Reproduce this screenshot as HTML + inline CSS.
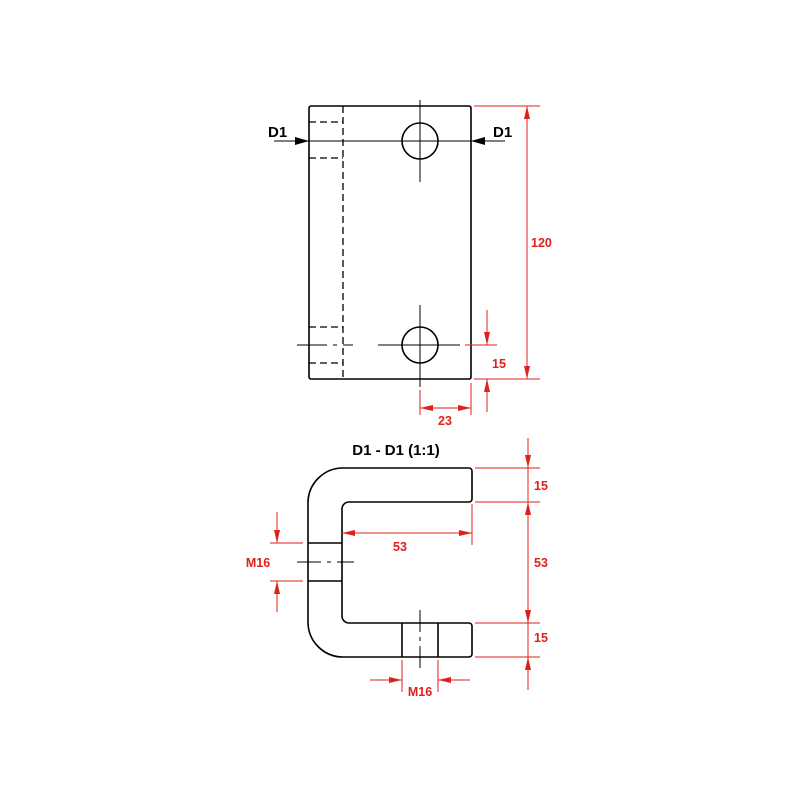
<!DOCTYPE html>
<html><head><style>body{margin:0;background:#fff}svg{display:block}</style></head><body>
<svg width="800" height="800" viewBox="0 0 800 800" xmlns="http://www.w3.org/2000/svg">
<defs>
<marker id="a" viewBox="0 0 13 6" refX="13" refY="3" markerWidth="13" markerHeight="6" markerUnits="userSpaceOnUse" orient="auto"><path d="M0,0L13,3L0,6z" fill="#e0201b"/></marker>
<marker id="b" viewBox="0 0 14 8" refX="14" refY="4" markerWidth="14" markerHeight="8" markerUnits="userSpaceOnUse" orient="auto"><path d="M0,0L14,4L0,8z" fill="#000"/></marker>
</defs>
<g fill="none" stroke="#000" stroke-width="1.6">
<rect x="309" y="106" width="162" height="273" rx="2"/>
<circle cx="420" cy="141" r="18"/>
<circle cx="420" cy="345" r="18"/>
</g>
<g fill="none" stroke="#000" stroke-width="1.3" stroke-dasharray="7,4">
<line x1="343" y1="106" x2="343" y2="379"/>
<line x1="309" y1="122" x2="343" y2="122"/><line x1="309" y1="158" x2="343" y2="158"/>
<line x1="309" y1="327" x2="343" y2="327"/><line x1="309" y1="363" x2="343" y2="363"/>
</g>
<g stroke="#000" stroke-width="1" fill="none">
<line x1="420" y1="100" x2="420" y2="182"/>
<line x1="420" y1="305" x2="420" y2="387"/>
<line x1="297" y1="345" x2="353" y2="345" stroke-dasharray="30,6,4,6,20"/>
<line x1="378" y1="345" x2="460" y2="345"/>
<line x1="309" y1="141" x2="471" y2="141"/>
<line x1="274" y1="141" x2="309" y2="141" marker-end="url(#b)"/>
<line x1="505" y1="141" x2="471" y2="141" marker-end="url(#b)"/>
</g>
<g font-family="Liberation Sans, sans-serif" font-weight="bold" font-size="15" fill="#000">
<text x="268" y="137">D1</text><text x="493" y="137">D1</text>
<text x="396" y="455" text-anchor="middle">D1 - D1 (1:1)</text>
</g>
<g fill="none" stroke="#000" stroke-width="1.6">
<path d="M469,468 H343 A35,35 0 0 0 308,503 V622 A35,35 0 0 0 343,657 H469 A3,3 0 0 0 472,654 V626 A3,3 0 0 0 469,623 H349 A7,7 0 0 1 342,616 V509 A7,7 0 0 1 349,502 H469 A3,3 0 0 0 472,499 V471 A3,3 0 0 0 469,468 Z"/>
<line x1="308" y1="543" x2="342" y2="543"/><line x1="308" y1="581" x2="342" y2="581"/>
<line x1="402" y1="623" x2="402" y2="657"/><line x1="438" y1="623" x2="438" y2="657"/>
</g>
<g stroke="#000" stroke-width="1" fill="none">
<line x1="297" y1="562" x2="354" y2="562" stroke-dasharray="24,6,4,6,20"/>
<line x1="420" y1="610" x2="420" y2="668" stroke-dasharray="22,5,4,5,30"/>
</g>
<g stroke="#e0201b" stroke-width="1" fill="none">
<line x1="474" y1="106" x2="540" y2="106"/><line x1="474" y1="379" x2="540" y2="379"/>
<line x1="527" y1="243" x2="527" y2="106" marker-end="url(#a)"/>
<line x1="527" y1="243" x2="527" y2="379" marker-end="url(#a)"/>
<line x1="465" y1="345" x2="497" y2="345"/>
<line x1="487" y1="310" x2="487" y2="345" marker-end="url(#a)"/>
<line x1="487" y1="412" x2="487" y2="379" marker-end="url(#a)"/>
<line x1="420" y1="390" x2="420" y2="415"/><line x1="471" y1="383" x2="471" y2="415"/>
<line x1="445" y1="408" x2="420" y2="408" marker-end="url(#a)"/>
<line x1="445" y1="408" x2="471" y2="408" marker-end="url(#a)"/>
<line x1="475" y1="468" x2="540" y2="468"/><line x1="475" y1="502" x2="540" y2="502"/>
<line x1="475" y1="623" x2="540" y2="623"/><line x1="475" y1="657" x2="540" y2="657"/>
<line x1="528" y1="438" x2="528" y2="468" marker-end="url(#a)"/>
<line x1="528" y1="468" x2="528" y2="502"/>
<line x1="528" y1="562" x2="528" y2="502" marker-end="url(#a)"/>
<line x1="528" y1="562" x2="528" y2="623" marker-end="url(#a)"/>
<line x1="528" y1="623" x2="528" y2="657"/>
<line x1="528" y1="690" x2="528" y2="657" marker-end="url(#a)"/>
<line x1="472" y1="504" x2="472" y2="545"/>
<line x1="400" y1="533" x2="342" y2="533" marker-end="url(#a)"/>
<line x1="400" y1="533" x2="472" y2="533" marker-end="url(#a)"/>
<line x1="270" y1="543" x2="303" y2="543"/><line x1="270" y1="581" x2="303" y2="581"/>
<line x1="277" y1="512" x2="277" y2="543" marker-end="url(#a)"/>
<line x1="277" y1="612" x2="277" y2="581" marker-end="url(#a)"/>
<line x1="402" y1="660" x2="402" y2="692"/><line x1="438" y1="660" x2="438" y2="692"/>
<line x1="370" y1="680" x2="402" y2="680" marker-end="url(#a)"/>
<line x1="470" y1="680" x2="438" y2="680" marker-end="url(#a)"/>
</g>
<g font-family="Liberation Sans, sans-serif" font-weight="bold" font-size="12.5" fill="#e0201b">
<text x="531" y="247">120</text>
<text x="492" y="368">15</text>
<text x="445" y="425" text-anchor="middle">23</text>
<text x="534" y="490">15</text>
<text x="534" y="567">53</text>
<text x="534" y="642">15</text>
<text x="400" y="551" text-anchor="middle">53</text>
<text x="258" y="567" text-anchor="middle">M16</text>
<text x="420" y="696" text-anchor="middle">M16</text>
</g>
</svg>
</body></html>
